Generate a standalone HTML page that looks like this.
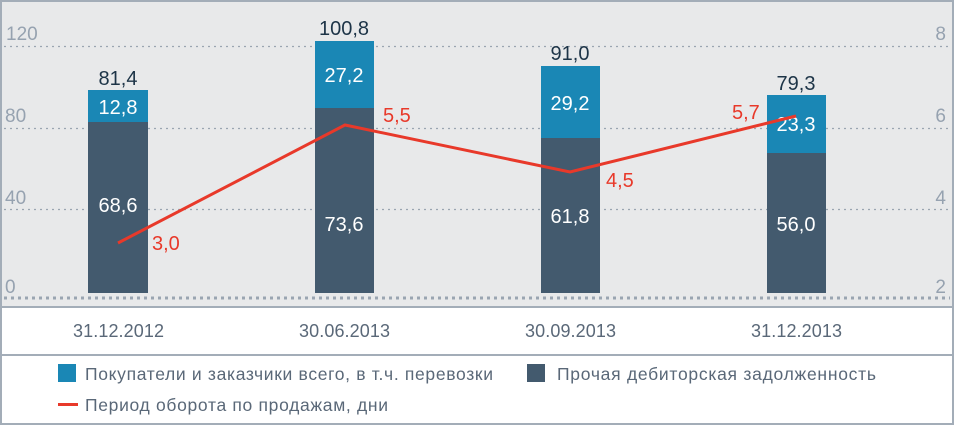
<!DOCTYPE html><html><head><meta charset="utf-8"><style>body{margin:0;background:#fff}svg{display:block}text{font-family:"Liberation Sans","DejaVu Sans",sans-serif}</style></head><body>
<svg width="954" height="426" viewBox="0 0 954 426" xmlns="http://www.w3.org/2000/svg">
<rect x="0" y="0" width="954" height="426" fill="#fff"/>
<rect x="1" y="1" width="952" height="306" fill="#e8e9ea"/>
<rect x="1" y="1" width="952" height="423" fill="none" stroke="#a3adb8" stroke-width="2"/>
<line x1="1" y1="307" x2="953" y2="307" stroke="#a3adb8" stroke-width="2"/>
<line x1="1" y1="355" x2="953" y2="355" stroke="#a3adb8" stroke-width="2"/>
<g stroke="#9aa5b1" stroke-width="1.3" stroke-dasharray="2,4">
<line x1="4" y1="46.5" x2="950" y2="46.5"/><line x1="4" y1="128.5" x2="950" y2="128.5"/><line x1="4" y1="209.5" x2="950" y2="209.5"/></g>
<line x1="4" y1="298" x2="950" y2="298" stroke="#9aa5b1" stroke-width="3" stroke-dasharray="3,4"/>
<g fill="#96a2b0" font-size="19"><text x="6" y="40">120</text><text x="5" y="122">80</text><text x="5" y="204">40</text><text x="5" y="293">0</text>
<text x="946" y="40" text-anchor="end">8</text><text x="946" y="122" text-anchor="end">6</text><text x="946" y="204" text-anchor="end">4</text><text x="946" y="293" text-anchor="end">2</text></g>
<g fill="#435a6e"><rect x="88" y="122" width="60" height="171"/><rect x="315" y="108" width="59" height="185"/><rect x="541" y="138" width="59" height="155"/><rect x="767" y="153" width="59" height="140"/></g>
<g fill="#1a87b5"><rect x="88" y="90" width="60" height="32"/><rect x="315" y="41" width="59" height="67"/><rect x="541" y="66" width="59" height="72"/><rect x="767" y="95" width="59" height="58"/></g>
<g fill="#fff" font-size="20" text-anchor="middle"><text x="118" y="114">12,8</text><text x="344" y="82">27,2</text><text x="570" y="110">29,2</text><text x="796" y="131">23,3</text>
<text x="118" y="212">68,6</text><text x="344" y="231">73,6</text><text x="570" y="223">61,8</text><text x="796" y="231">56,0</text></g>
<g fill="#1d3447" font-size="20" text-anchor="middle"><text x="118" y="85">81,4</text><text x="344" y="35">100,8</text><text x="570" y="60">91,0</text><text x="796" y="90">79,3</text></g>
<polyline points="118,243 345,125 570,172 796,116" fill="none" stroke="#e8392a" stroke-width="3"/>
<g fill="#e8392a" font-size="20"><text x="152" y="250">3,0</text><text x="383" y="122">5,5</text><text x="606" y="187">4,5</text><text x="732" y="119">5,7</text></g>
<g fill="#5a6878" font-size="18"><text x="73" y="337" textLength="91">31.12.2012</text><text x="299" y="337" textLength="91">30.06.2013</text><text x="525" y="337" textLength="91">30.09.2013</text><text x="751" y="337" textLength="91">31.12.2013</text></g>
<rect x="58" y="364" width="18" height="18" fill="#1a87b5"/><rect x="527" y="364" width="18" height="18" fill="#435a6e"/>
<rect x="58" y="403" width="20" height="3" fill="#e8392a"/>
<g fill="#5a6878" font-size="17.5"><text x="85" y="380" textLength="408">Покупатели и заказчики всего, в т.ч. перевозки</text><text x="557" y="380" textLength="319">Прочая дебиторская задолженность</text><text x="85" y="411" textLength="303">Период оборота по продажам, дни</text></g>
</svg></body></html>
